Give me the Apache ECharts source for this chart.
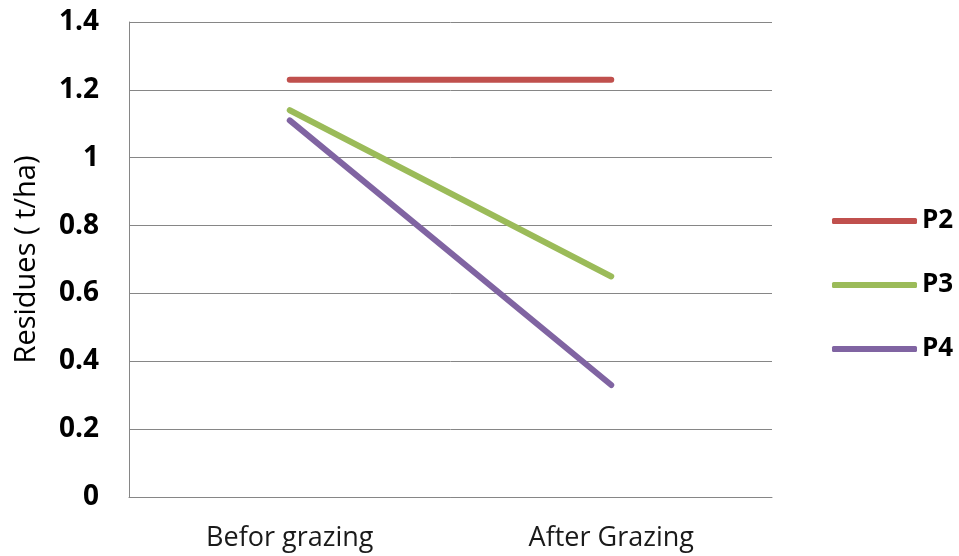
<!DOCTYPE html>
<html>
<head>
<meta charset="utf-8">
<script src="https://cdn.jsdelivr.net/npm/echarts@6/dist/echarts.min.js"></script>
<style>
  html, body { margin: 0; padding: 0; background: #fff; }
  #chart { width: 959px; height: 556px; }
</style>
</head>
<body>
<div id="chart"></div>
<script>
// Crop residues before and after grazing, per paddock
const categories = ['Befor grazing', 'After Grazing'];
const seriesNames = ['P2', 'P3', 'P4'];
const p2 = [1.23, 1.23];
const p3 = [1.14, 0.65];
const p4 = [1.11, 0.33];
const seriesColors = ['#C0504D', '#9BBB59', '#8064A2'];

const FONT = '"Open Sans", Lato, sans-serif';
const values = [p2, p3, p4];

const chart = echarts.init(document.getElementById('chart'));
chart.setOption({
  animation: false,
  backgroundColor: '#ffffff',
  grid: {
    left: 129, right: 187, top: 22, bottom: 59,
    containLabel: false,
    outerBoundsMode: 'none'
  },
  legend: {
    orient: 'vertical',
    left: 827,
    top: 203,
    itemWidth: 85,
    itemHeight: 6,
    itemGap: 38,
    icon: 'roundRect',
    textStyle: { fontFamily: FONT, fontSize: 26, fontWeight: 'bold', color: '#000' },
    data: seriesNames
  },
  xAxis: {
    type: 'category',
    data: categories,
    boundaryGap: true,
    axisLine: { show: true, lineStyle: { color: '#868686', width: 1 } },
    axisTick: { show: false },
    axisLabel: { fontFamily: FONT, fontSize: 27, color: '#1a1a1a', margin: 28 }
  },
  yAxis: {
    type: 'value',
    min: 0,
    max: 1.4,
    interval: 0.2,
    name: 'Residues ( t/ha)',
    nameLocation: 'middle',
    nameRotate: 90,
    nameGap: 88,
    nameTextStyle: { fontFamily: FONT, fontSize: 29, fontWeight: 500, color: '#000' },
    axisLine: { show: true, lineStyle: { color: '#868686', width: 1 } },
    axisTick: { show: false },
    splitLine: { show: true, lineStyle: { color: '#868686', width: 1 } },
    axisLabel: {
      fontFamily: FONT, fontSize: 28, fontWeight: 'bold', color: '#000', margin: 30,
      formatter: v => String(Math.round(v * 10) / 10)
    }
  },
  series: seriesNames.map((name, i) => ({
    name: name,
    type: 'line',
    data: values[i],
    showSymbol: false,
    symbol: 'none',
    itemStyle: { color: seriesColors[i] },
    lineStyle: { color: seriesColors[i], width: 6, cap: 'round' }
  }))
});
</script>
</body>
</html>
